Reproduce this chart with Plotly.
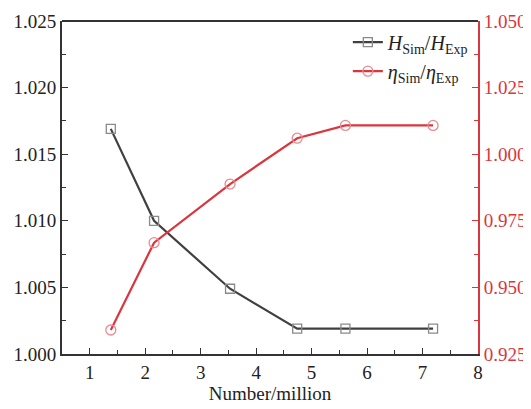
import plotly.graph_objects as go

x_mesh = [1.38, 2.16, 3.53, 4.74, 5.61, 7.19]
h_ratio = [1.0169, 1.0100, 1.0049, 1.0019, 1.0019, 1.0019]
eta_ratio = [0.9340, 0.9668, 0.9888, 1.0060, 1.0108, 1.0108]

name_h = "<i>H</i><sub>Sim</sub>/<i>H</i><sub>Exp</sub>"
name_eta = "<i>η</i><sub>Sim</sub>/<i>η</i><sub>Exp</sub>"

RED = "#d9363e"
FONT = "Liberation Serif"

fig = go.Figure()
fig.add_trace(go.Scatter(
    x=x_mesh, y=h_ratio, name=name_h, mode="lines+markers",
    line=dict(color="#404040", width=2.2),
    marker=dict(symbol="square-open", size=9, color="#8a8a8a", line=dict(width=1.3)),
))
fig.add_trace(go.Scatter(
    x=x_mesh, y=eta_ratio, name=name_eta, mode="lines+markers", yaxis="y2",
    line=dict(color=RED, width=2.2),
    marker=dict(symbol="circle-open", size=10, color="#ea8a90", line=dict(width=1.3)),
))

fig.update_layout(
    width=523, height=401,
    margin=dict(l=54, r=53, t=13, b=55, autoexpand=False),
    plot_bgcolor="white", paper_bgcolor="white",
    font=dict(family=FONT, size=19, color="#222"),
    showlegend=True,
    legend=dict(x=0.99, y=0.995, xanchor="right", yanchor="top",
                font=dict(family=FONT, size=20, color="#222"),
                bgcolor="rgba(0,0,0,0)", tracegroupgap=0),
    xaxis=dict(range=[0.5, 8], tickmode="linear", tick0=1, dtick=1,
               ticks="inside", ticklen=6, tickwidth=1.3, tickcolor="#333",
               minor=dict(ticks="inside", ticklen=4, dtick=0.5, tick0=0.5, tickcolor="#333"),
               showline=True, linecolor="#333", linewidth=1.8,
               showgrid=False, zeroline=False, automargin=False,
               title=dict(text="Number/million", font=dict(size=19), standoff=5),
               tickfont=dict(size=19, color="#222")),
    yaxis=dict(range=[1.0, 1.025], tickmode="linear", tick0=1.0, dtick=0.005,
               tickformat=".3f", automargin=False,
               ticks="inside", ticklen=6, tickwidth=1.3, tickcolor="#333",
               minor=dict(ticks="inside", ticklen=4, dtick=0.0025, tickcolor="#333"),
               showline=True, linecolor="#333", linewidth=1.8,
               showgrid=False, zeroline=False,
               tickfont=dict(size=19, color="#222")),
    yaxis2=dict(range=[0.925, 1.05], tickmode="linear", tick0=0.925, dtick=0.025,
                tickformat=".3f", overlaying="y", side="right", automargin=False,
                ticks="inside", ticklen=6, tickwidth=1.3, tickcolor=RED,
                minor=dict(ticks="inside", ticklen=4, dtick=0.0125, tickcolor=RED),
                showline=True, linecolor=RED, linewidth=1.8,
                showgrid=False, zeroline=False,
                tickfont=dict(size=19, color=RED)),
    shapes=[dict(type="line", xref="paper", yref="paper", x0=0, x1=1, y0=1, y1=1,
                 line=dict(color="#333", width=1.8))],
)

fig.write_html("out.html")
